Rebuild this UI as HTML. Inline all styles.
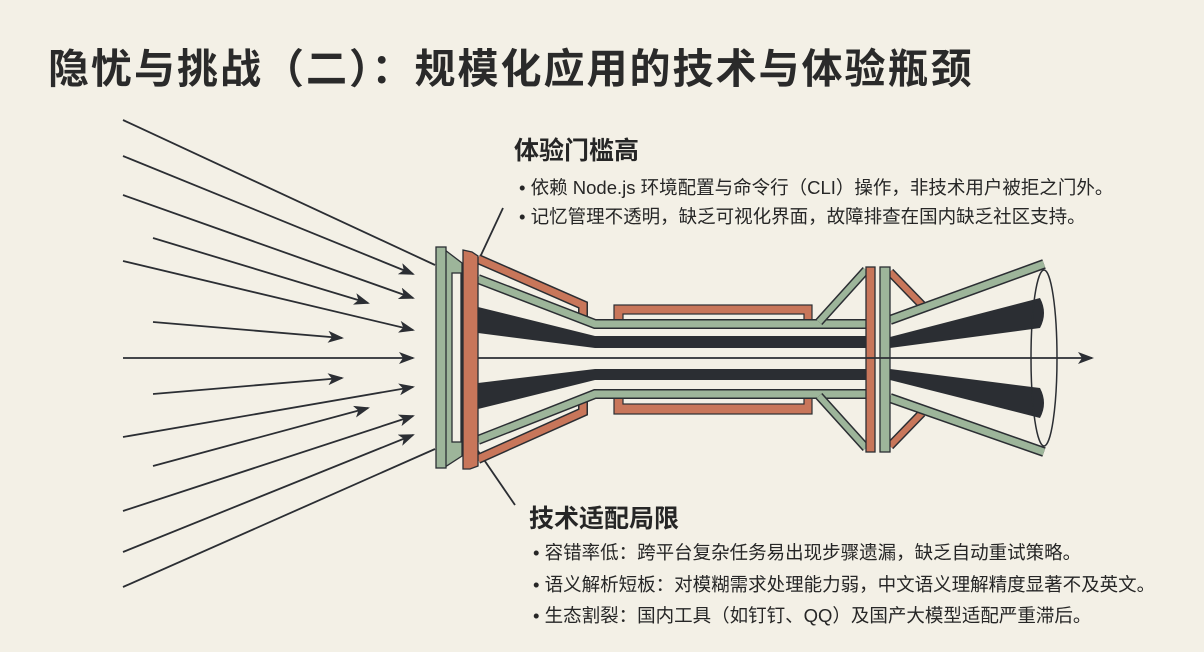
<!DOCTYPE html>
<html><head><meta charset="utf-8"><style>
html,body{margin:0;padding:0;background:#f3f0e6;}
body{width:1204px;height:652px;position:relative;overflow:hidden;font-family:"Liberation Sans","Noto Sans CJK SC",sans-serif;color:#262626;}
.t{position:absolute;white-space:nowrap;}
h1{position:absolute;left:48px;top:35px;margin:0;font-size:41px;font-weight:bold;letter-spacing:2px;color:#2a2a2a;white-space:nowrap;}
.h{font-size:25px;font-weight:bold;}
.b{font-size:18.5px;}
</style></head><body>
<h1>隐忧与挑战（二）：规模化应用的技术与体验瓶颈</h1>
<svg width="1204" height="652" style="position:absolute;left:0;top:0">
<defs>
<marker id="b" markerWidth="16" markerHeight="12" refX="14" refY="6" orient="auto" markerUnits="userSpaceOnUse"><path d="M0,0 L16,6 L0,12 L4,6 z" fill="#2b2e33"/></marker></defs>
<g stroke="#2b2e33" stroke-width="1.8" fill="none">
<line x1="123" y1="120" x2="435" y2="265"/>
<line x1="123" y1="156" x2="413" y2="274" marker-end="url(#b)"/>
<line x1="123" y1="195" x2="413" y2="298" marker-end="url(#b)"/>
<line x1="153" y1="238" x2="368" y2="303" marker-end="url(#b)"/>
<line x1="123" y1="261" x2="413" y2="330" marker-end="url(#b)"/>
<line x1="153" y1="322" x2="342" y2="338" marker-end="url(#b)"/>
<line x1="123" y1="358" x2="413" y2="358" marker-end="url(#b)"/>
<line x1="153" y1="394" x2="342" y2="378" marker-end="url(#b)"/>
<line x1="123" y1="437" x2="413" y2="387" marker-end="url(#b)"/>
<line x1="153" y1="466" x2="368" y2="408" marker-end="url(#b)"/>
<line x1="123" y1="511" x2="413" y2="416" marker-end="url(#b)"/>
<line x1="123" y1="552" x2="413" y2="435" marker-end="url(#b)"/>
<line x1="123" y1="587" x2="435" y2="449"/>
<line x1="503" y1="208" x2="467" y2="285"/>
<line x1="467" y1="435" x2="515" y2="505"/>
</g>
<g fill="#2b2e33">
<polygon points="478,307 595,336 866,336 866,348 595,348 478,333"/>
<polygon points="478,383 595,369 866,369 866,380 595,380 478,409"/>
<path d="M890,337 L1040,298 Q1048,313 1040,328 L890,348 Z"/>
<path d="M890,369 L1040,388 Q1048,403 1040,418 L890,380 Z"/>
</g>
<g stroke="#2b2e33" stroke-width="1.2">
<rect x="614" y="305" width="198" height="19" fill="#c8765a"/>
<rect x="623" y="314" width="181" height="10" fill="#f3f0e6"/>
<rect x="614" y="394" width="198" height="20" fill="#c8765a"/>
<rect x="623" y="394" width="181" height="10" fill="#f3f0e6"/>
</g>
<g fill="none" stroke-linejoin="miter">
<polyline points="478,259 583,305 583,320" stroke="#2b2e33" stroke-width="10"/>
<polyline points="478,259 583,305 583,320" stroke="#c8765a" stroke-width="7"/>
<polyline points="478,459 583,412 583,398" stroke="#2b2e33" stroke-width="10"/>
<polyline points="478,459 583,412 583,398" stroke="#c8765a" stroke-width="7"/>
<polyline points="478,279 595,324 866,324" stroke="#2b2e33" stroke-width="10"/>
<polyline points="478,279 595,324 866,324" stroke="#9db59a" stroke-width="7"/>
<polyline points="478,440 595,394 866,394" stroke="#2b2e33" stroke-width="10"/>
<polyline points="478,440 595,394 866,394" stroke="#9db59a" stroke-width="7"/>
<line x1="819" y1="322" x2="866" y2="270" stroke="#2b2e33" stroke-width="9"/>
<line x1="819" y1="322" x2="866" y2="270" stroke="#9db59a" stroke-width="6"/>
<line x1="819" y1="396" x2="866" y2="448" stroke="#2b2e33" stroke-width="9"/>
<line x1="819" y1="396" x2="866" y2="448" stroke="#9db59a" stroke-width="6"/>
<line x1="890" y1="272" x2="922" y2="305" stroke="#2b2e33" stroke-width="9"/>
<line x1="890" y1="272" x2="922" y2="305" stroke="#c8765a" stroke-width="6"/>
<line x1="890" y1="446" x2="922" y2="413" stroke="#2b2e33" stroke-width="9"/>
<line x1="890" y1="446" x2="922" y2="413" stroke="#c8765a" stroke-width="6"/>
<line x1="890" y1="320" x2="1044" y2="264" stroke="#2b2e33" stroke-width="10"/>
<line x1="890" y1="320" x2="1044" y2="264" stroke="#9db59a" stroke-width="7"/>
<line x1="890" y1="398" x2="1044" y2="452" stroke="#2b2e33" stroke-width="10"/>
<line x1="890" y1="398" x2="1044" y2="452" stroke="#9db59a" stroke-width="7"/>
</g>
<g stroke="#2b2e33" stroke-width="1.3">
<polygon points="445,250 462,263 462,456 445,467" fill="#9db59a"/>
<rect x="452" y="273" width="9" height="169" fill="#f3f0e6"/>
<rect x="436" y="247" width="10" height="221" fill="#9db59a"/>
<path d="M463,250 L472,252 L478,256 L478,466 L470,469 L463,469 Z" fill="#c8765a"/>
<rect x="866" y="267" width="9" height="185" fill="#c8765a"/>
<rect x="880" y="267" width="10" height="185" fill="#9db59a"/>
</g>
<ellipse cx="1044" cy="358" rx="13" ry="88" fill="none" stroke="#2b2e33" stroke-width="1.5"/>
<line x1="478" y1="358" x2="1092" y2="358" stroke="#2b2e33" stroke-width="1.8" marker-end="url(#b)"/>
</svg>
<div class="t h" style="left:514px;top:131px;">体验门槛高</div>
<div class="t b" style="left:519px;top:174px;">•&nbsp;依赖 Node.js 环境配置与命令行（CLI）操作，非技术用户被拒之门外。</div>
<div class="t b" style="left:519px;top:203px;">•&nbsp;记忆管理不透明，缺乏可视化界面，故障排查在国内缺乏社区支持。</div>
<div class="t h" style="left:529px;top:499px;">技术适配局限</div>
<div class="t b" style="left:533px;top:539px;">•&nbsp;容错率低：跨平台复杂任务易出现步骤遗漏，缺乏自动重试策略。</div>
<div class="t b" style="left:533px;top:571px;">•&nbsp;语义解析短板：对模糊需求处理能力弱，中文语义理解精度显著不及英文。</div>
<div class="t b" style="left:533px;top:602px;">•&nbsp;生态割裂：国内工具（如钉钉、QQ）及国产大模型适配严重滞后。</div>
</body></html>
